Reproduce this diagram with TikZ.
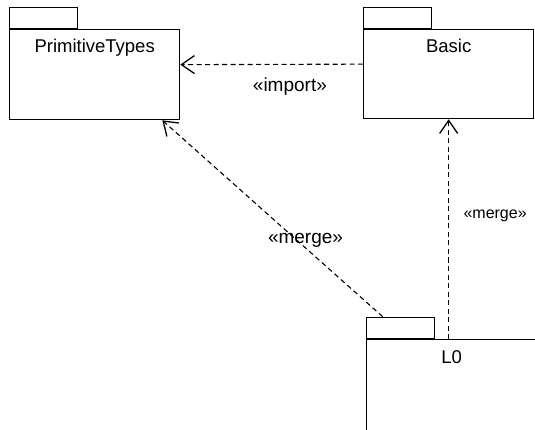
\documentclass[tikz,border=0pt]{standalone}
\usepackage{fontspec}
\setmainfont{Liberation Sans}
\usetikzlibrary{arrows.meta}
\tikzset{
  pkgbox/.style={draw, line width=1.3pt, inner sep=0pt, minimum width=170pt, anchor=north west},
  pkgtab/.style={draw, line width=1.3pt, inner sep=0pt, minimum width=68pt, minimum height=21pt, anchor=south west},
  pkgname/.style={anchor=base, font=\fontsize{18.5}{20}\selectfont},
  dep/.style={line width=1.1pt, dash pattern=on 5pt off 3.5pt, -{Straight Barb[length=13pt,width=18pt,line width=1.3pt]}},
  stereo/.style={font=\fontsize{19}{21}\selectfont},
}
\begin{document}
\begin{tikzpicture}[x=1pt,y=-1pt]
\pgfmathsetmacro\nameskip{24};
\useasboundingbox (0,0) rectangle (535,430);
\foreach \name/\x/\y/\h/\txt in {prim/9/29/90/PrimitiveTypes, basic/363/29/89/Basic, lzero/366/339/120/L0} {
  \node[pkgbox, minimum height=\h pt] (\name) at (\x,\y) {};
  \node[pkgtab] (\name-tab) at (\name.north west) {};
  \node[pkgname] (\name-label) at ([yshift=-\nameskip pt]\name.north) {\txt};
}
\draw[dep] ([yshift=10pt]basic.west) -- ([yshift=10pt]prim.east)
  node[stereo, pos=0.4, yshift=-22pt] (importlabel) {«import»};
\draw[dep] ([xshift=-18pt]lzero-tab.north) -- ([xshift=-18pt]prim.south east)
  node[stereo, pos=0.35, yshift=8pt] (mergeleft) {«merge»};
\draw[dep] (lzero.north -| basic.south) -- (basic.south)
  node[pos=0.56, anchor=west, xshift=11pt, font=\fontsize{16}{18}\selectfont] (mergeright) {«merge»};
\end{tikzpicture}
\end{document}
